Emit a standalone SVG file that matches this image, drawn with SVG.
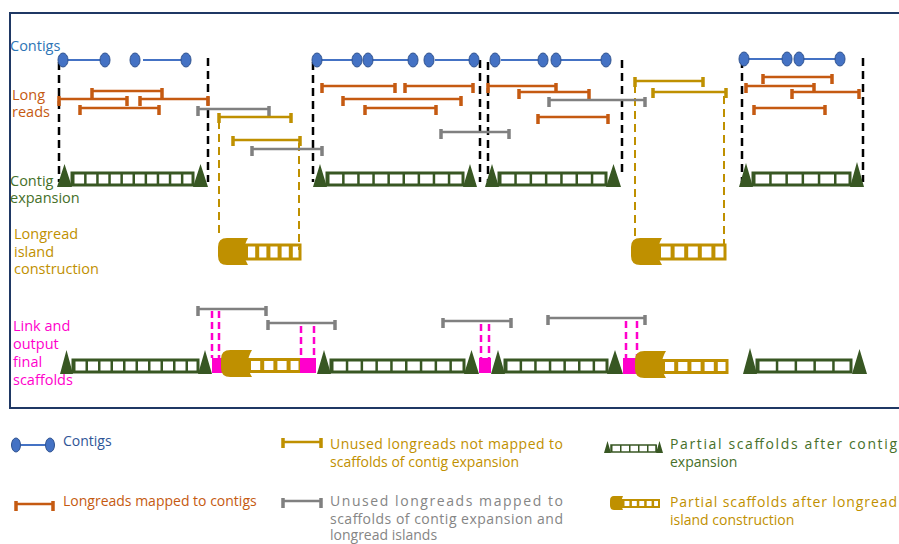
<svg xmlns="http://www.w3.org/2000/svg" width="899" height="544" viewBox="0 0 899 544">
<style>
text{font-family:"Open Sans","Noto Sans","Liberation Sans",sans-serif;font-size:14px}
.lb{font-size:14.5px}
.tb{fill:#2E75B6}.to{fill:#C55A11}.tgr{fill:#46702A}.tgo{fill:#BF9000}.tm{fill:#FF00CC}.tgy{fill:#858585}.tbl{fill:#2F5597}
.frame{fill:none;stroke:#1F3864;stroke-width:2}
.cl{stroke:#4472C4;stroke-width:2}
.ce{fill:#4472C4;stroke:#2F528F;stroke-width:1}
.ro{stroke:#C55A11;stroke-width:2.5;marker-start:url(#mO);marker-end:url(#mO)}
.rg{stroke:#808080;stroke-width:2.5;marker-start:url(#mG);marker-end:url(#mG)}
.ry{stroke:#BF9000;stroke-width:2.5;marker-start:url(#mY);marker-end:url(#mY)}
.dk{stroke:#000;stroke-width:2.5;stroke-dasharray:8 5;fill:none}
.dy{stroke:#BF9000;stroke-width:2;stroke-dasharray:8 5;fill:none}
.dm{stroke:#FF00CC;stroke-width:2.5;stroke-dasharray:7 4;fill:none}
.tri{fill:#385723}
.lad{fill:none;stroke:#385723;stroke-width:3}
.rung{stroke:#385723}
.gcap{fill:#BF9000}
.glad{fill:none;stroke:#BF9000;stroke-width:3}
.grung{stroke:#BF9000}
.mag{fill:#FF00CC}
</style>
<defs>
<marker id="mO" viewBox="0 0 3.5 10" refX="1.75" refY="3" markerWidth="3.5" markerHeight="10" markerUnits="userSpaceOnUse" orient="0"><rect width="3.5" height="10" fill="#C55A11"/></marker>
<marker id="mG" viewBox="0 0 3.5 10" refX="1.75" refY="3" markerWidth="3.5" markerHeight="10" markerUnits="userSpaceOnUse" orient="0"><rect width="3.5" height="10" fill="#808080"/></marker>
<marker id="mY" viewBox="0 0 3.5 10" refX="1.75" refY="4" markerWidth="3.5" markerHeight="10" markerUnits="userSpaceOnUse" orient="0"><rect width="3.5" height="10" fill="#BF9000"/></marker>
<symbol id="cap" viewBox="0 0 30 27" preserveAspectRatio="none"><path d="M30 0H9Q0 0 0 9V18Q0 27 9 27H30Q22 13.5 30 0Z"/></symbol>
</defs>

<rect class="frame" x="10" y="13" width="900" height="395"/>

<g id="labels">
<text class="tb lb" x="10" y="51">Contigs</text>
<text class="to lb" x="12" y="100">Long</text>
<text class="to lb" x="12" y="117">reads</text>
<text class="tgr lb" x="10" y="186">Contig</text>
<text class="tgr lb" x="10" y="203">expansion</text>
<text class="tgo lb" x="14" y="239">Longread</text>
<text class="tgo lb" x="14" y="257">island</text>
<text class="tgo lb" x="14" y="274">construction</text>
<text class="tm lb" x="13" y="331">Link and</text>
<text class="tm lb" x="13" y="349">output</text>
<text class="tm lb" x="13" y="367">final</text>
<text class="tm lb" x="13" y="385">scaffolds</text>
</g>

<g id="connectors">
<path class="dk" d="M59 62V182M208 58V182M313 62V182M480 60V182M488 62V182M622 60V173M742 60V182M863 58V182"/>
<path class="dy" d="M219 121V237M299 143V250M635 85V238M724 96V246"/>
<path class="dm" d="M212 311V358M219 311V358M301 326V358M314 326V358M481 324V358M489 324V358M626 321V358M637 321V358"/>
</g>

<g id="contigs">
<g><line class="cl" x1="63" y1="60" x2="105" y2="60"/><ellipse class="ce" cx="63" cy="60" rx="5" ry="7"/><ellipse class="ce" cx="105" cy="60" rx="5" ry="7"/></g>
<g><line class="cl" x1="143" y1="60" x2="186" y2="60"/><ellipse class="ce" cx="135" cy="60" rx="5" ry="7"/><ellipse class="ce" cx="186" cy="60" rx="5" ry="7"/></g>
<g><line class="cl" x1="317" y1="60" x2="357" y2="60"/><ellipse class="ce" cx="317" cy="60" rx="5" ry="7"/><ellipse class="ce" cx="357" cy="60" rx="5" ry="7"/></g>
<g><line class="cl" x1="368" y1="60" x2="413" y2="60"/><ellipse class="ce" cx="368" cy="60" rx="5" ry="7"/><ellipse class="ce" cx="413" cy="60" rx="5" ry="7"/></g>
<g><line class="cl" x1="435" y1="60" x2="474" y2="60"/><ellipse class="ce" cx="429" cy="60" rx="5" ry="7"/><ellipse class="ce" cx="474" cy="60" rx="5" ry="7"/></g>
<g><line class="cl" x1="501" y1="60" x2="543" y2="60"/><ellipse class="ce" cx="495" cy="60" rx="5" ry="7"/><ellipse class="ce" cx="543" cy="60" rx="5" ry="7"/></g>
<g><line class="cl" x1="556" y1="60" x2="606" y2="60"/><ellipse class="ce" cx="556" cy="60" rx="5" ry="7"/><ellipse class="ce" cx="606" cy="60" rx="5" ry="7"/></g>
<g><line class="cl" x1="744" y1="59" x2="787" y2="59"/><ellipse class="ce" cx="744" cy="59" rx="5" ry="7"/><ellipse class="ce" cx="787" cy="59" rx="5" ry="7"/></g>
<g><line class="cl" x1="799" y1="59" x2="840" y2="59"/><ellipse class="ce" cx="799" cy="59" rx="5" ry="7"/><ellipse class="ce" cx="840" cy="59" rx="5" ry="7"/></g>
</g>

<g id="longreads">
<line class="ro" x1="92" y1="91" x2="162" y2="91"/>
<line class="ro" x1="59" y1="99" x2="127" y2="99"/>
<line class="ro" x1="140" y1="99" x2="208" y2="99"/>
<line class="ro" x1="80" y1="108" x2="159" y2="108"/>
<line class="ro" x1="322" y1="86" x2="395" y2="86"/>
<line class="ro" x1="405" y1="86" x2="473" y2="86"/>
<line class="ro" x1="343" y1="99" x2="461" y2="99"/>
<line class="ro" x1="365" y1="108" x2="436" y2="108"/>
<line class="ro" x1="488" y1="86" x2="556" y2="86"/>
<line class="ro" x1="519" y1="92" x2="589" y2="92"/>
<line class="ro" x1="538" y1="117" x2="608" y2="117"/>
<line class="ro" x1="763" y1="77" x2="832" y2="77"/>
<line class="ro" x1="746" y1="86" x2="814" y2="86"/>
<line class="ro" x1="792" y1="92" x2="859" y2="92"/>
<line class="ro" x1="754" y1="108" x2="825" y2="108"/>
</g>

<g id="unused-reads">
<line class="rg" x1="198" y1="109" x2="269" y2="109"/>
<line class="rg" x1="252" y1="149" x2="322" y2="149"/>
<line class="rg" x1="549" y1="100" x2="645" y2="100"/>
<line class="rg" x1="441" y1="132" x2="509" y2="132"/>
<line class="ry" x1="219" y1="117" x2="291" y2="117"/>
<line class="ry" x1="233" y1="140" x2="300" y2="140"/>
<line class="ry" x1="635" y1="81" x2="703" y2="81"/>
<line class="ry" x1="653" y1="92" x2="726" y2="92"/>
</g>

<g id="scaffold-1">
<rect class="lad" x="72" y="173" width="121" height="12"/>
<line class="rung" x1="72" y1="179" x2="194" y2="179" stroke-width="12" stroke-dasharray="2.5 9.6"/>
<path class="tri" d="M57 187L64.5 164L72 187ZM193 187L200.5 164L208 187Z"/>
</g>
<g id="scaffold-2">
<rect class="lad" x="327" y="173" width="136" height="12"/>
<line class="rung" x1="327" y1="179" x2="464" y2="179" stroke-width="12" stroke-dasharray="2.5 12.6"/>
<path class="tri" d="M313 187L320 164L327 187ZM463 187L470 164L477 187Z"/>
</g>
<g id="scaffold-3">
<rect class="lad" x="499" y="173" width="107" height="12"/>
<line class="rung" x1="499" y1="179" x2="607" y2="179" stroke-width="12" stroke-dasharray="2.5 12.8"/>
<path class="tri" d="M485 187L492 164L499 187ZM606 187L613.5 164L621 187Z"/>
</g>
<g id="scaffold-4">
<rect class="lad" x="753" y="173" width="97" height="12"/>
<line class="rung" x1="753" y1="179" x2="851" y2="179" stroke-width="12" stroke-dasharray="2.5 13.7"/>
<path class="tri" d="M739 187L746 163L753 187ZM850 187L857 162L864 187Z"/>
</g>

<g id="island-1">
<use href="#cap" class="gcap" x="218" y="238" width="30" height="27"/>
<rect class="glad" x="244" y="245" width="56" height="14"/>
<line class="grung" x1="244" y1="252" x2="301" y2="252" stroke-width="14" stroke-dasharray="4 7.2"/>
</g>
<g id="island-2">
<use href="#cap" class="gcap" x="631" y="238" width="31" height="27"/>
<rect class="glad" x="657" y="245" width="68" height="14"/>
<line class="grung" x1="657" y1="252" x2="726" y2="252" stroke-width="14" stroke-dasharray="4 9.6"/>
</g>

<g id="final-reads">
<line class="rg" x1="198" y1="309" x2="266" y2="309"/>
<line class="rg" x1="268" y1="323" x2="335" y2="323"/>
<line class="rg" x1="443" y1="321" x2="511" y2="321"/>
<line class="rg" x1="548" y1="318" x2="645" y2="318"/>
</g>

<g id="final-scaffold">
<rect class="lad" x="73" y="360" width="125" height="12"/>
<line class="rung" x1="73" y1="366" x2="199" y2="366" stroke-width="12" stroke-dasharray="2.5 10"/>
<path class="tri" d="M60 374L66.5 350L73 374ZM198 374L205 350L212 374Z"/>
<rect class="mag" x="212" y="358" width="10" height="15"/>
<use href="#cap" class="gcap" x="221" y="350" width="31" height="27"/>
<rect class="glad" x="247" y="359.5" width="53" height="12"/>
<line class="grung" x1="247" y1="365.5" x2="301" y2="365.5" stroke-width="12" stroke-dasharray="4 9.2"/>
<rect class="mag" x="300" y="358" width="16" height="15"/>
<path class="tri" d="M317 374L324 350L331 374Z"/>
<rect class="lad" x="331" y="360" width="133" height="12"/>
<line class="rung" x1="331" y1="366" x2="465" y2="366" stroke-width="12" stroke-dasharray="2.5 12.3"/>
<path class="tri" d="M464 374L471.5 350L479 374Z"/>
<rect class="mag" x="479" y="358" width="12" height="15"/>
<path class="tri" d="M491 374L498 350L505 374Z"/>
<rect class="lad" x="505" y="360" width="102" height="12"/>
<line class="rung" x1="505" y1="366" x2="608" y2="366" stroke-width="12" stroke-dasharray="2.5 12.1"/>
<path class="tri" d="M607 374L615 350L623 374Z"/>
<rect class="mag" x="623" y="358" width="13" height="16"/>
<use href="#cap" class="gcap" x="635" y="351" width="31" height="27"/>
<rect class="glad" x="661" y="360.5" width="66" height="12"/>
<line class="grung" x1="661" y1="366.5" x2="728" y2="366.5" stroke-width="12" stroke-dasharray="4 9.2"/>
</g>
<g id="final-scaffold-4">
<rect class="lad" x="757" y="360" width="94" height="12"/>
<line class="rung" x1="757" y1="366" x2="852" y2="366" stroke-width="12" stroke-dasharray="2.5 16.3"/>
<path class="tri" d="M743 374L750 348L757 374ZM852 374L859.5 349L867 374Z"/>
</g>

<g id="legend">
<g><line class="cl" x1="16" y1="445" x2="50" y2="445"/><ellipse class="ce" cx="16" cy="445" rx="4.5" ry="7"/><ellipse class="ce" cx="50" cy="445" rx="4.5" ry="7"/></g>
<text class="tbl" x="63" y="446">Contigs</text>
<line class="ro" x1="16" y1="504" x2="53" y2="504"/>
<text class="to" x="63" y="506">Longreads mapped to contigs</text>
<line class="ry" x1="283" y1="442" x2="321" y2="442"/>
<text class="tgo" x="330" y="449" textLength="233" lengthAdjust="spacing">Unused longreads not mapped to</text>
<text class="tgo" x="330" y="467">scaffolds of contig expansion</text>
<line class="rg" x1="283" y1="501" x2="321" y2="501"/>
<text class="tgy" x="330" y="506" textLength="233" lengthAdjust="spacing">Unused longreads mapped to</text>
<text class="tgy" x="330" y="524" textLength="233" lengthAdjust="spacing">scaffolds of contig expansion and</text>
<text class="tgy" x="330" y="540">longread islands</text>
<g>
<rect fill="none" stroke="#385723" stroke-width="1.5" x="611" y="445" width="45" height="7"/>
<line class="rung" x1="611" y1="448.5" x2="657" y2="448.5" stroke-width="7" stroke-dasharray="1.5 7.5"/>
<path class="tri" d="M604 453L607.5 441L611 453ZM656 453L659.5 441L663 453Z"/>
</g>
<text class="tgr" x="670" y="449" textLength="227" lengthAdjust="spacing">Partial scaffolds after contig</text>
<text class="tgr" x="670" y="467">expansion</text>
<g>
<use href="#cap" class="gcap" x="610" y="496" width="13" height="14"/>
<rect fill="none" stroke="#BF9000" stroke-width="2" x="622" y="500" width="37" height="7"/>
<line class="grung" x1="622" y1="503.5" x2="660" y2="503.5" stroke-width="7" stroke-dasharray="2.5 4.9"/>
</g>
<text class="tgo" x="670" y="507" textLength="227" lengthAdjust="spacing">Partial scaffolds after longread</text>
<text class="tgo" x="670" y="525">island construction</text>
</g>
</svg>
